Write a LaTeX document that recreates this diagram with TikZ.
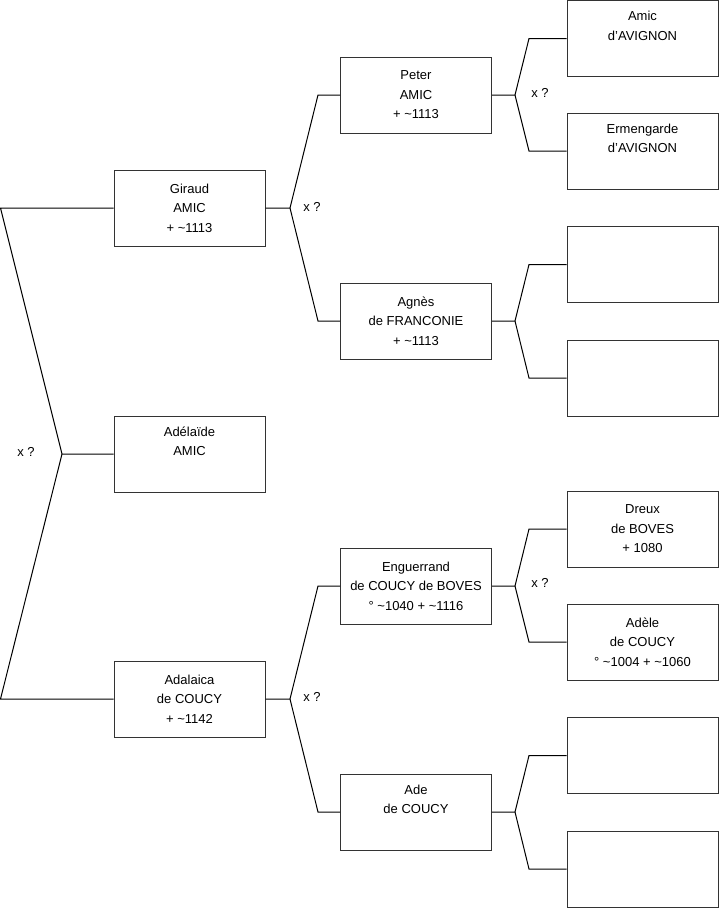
\documentclass[tikz,border=0pt]{standalone}
\usepackage{fontspec}
\setmainfont{Liberation Sans}
\begin{document}
\begin{tikzpicture}[x=1pt,y=-1pt,
  person/.style={draw=black!80, line width=1pt, minimum width=151pt, minimum height=76pt,
     inner sep=0pt, align=center, font=\fontsize{13}{19.5}\selectfont},
  link/.style={draw=black, line width=1pt},
  lbl/.style={font=\fontsize{13}{14}\selectfont, inner sep=0pt}]
\useasboundingbox (0,0) rectangle (719,908);
% level 1
\node[person] (g) at (189.5,208) {Giraud\\AMIC\\+ \textasciitilde1113};
\node[person] (ad) at (189.5,454) {Adélaïde\\AMIC\\\strut};
\node[person] (ac) at (189.5,699) {Adalaica\\de COUCY\\+ \textasciitilde1142};
% level 2
\node[person] (p) at (416,95) {Peter\\AMIC\\+ \textasciitilde1113};
\node[person] (ag) at (416,321) {Agnès\\de FRANCONIE\\+ \textasciitilde1113};
\node[person] (en) at (416,586) {Enguerrand\\de COUCY de BOVES\\° \textasciitilde1040 + \textasciitilde1116};
\node[person] (ade) at (416,812) {Ade\\de COUCY\\\strut};
% level 3
\node[person] (am) at (642.5,38.5) {Amic\\d'AVIGNON\\\strut};
\node[person] (er) at (642.5,151) {Ermengarde\\d'AVIGNON\\\strut};
\node[person] (e1) at (642.5,264.5) {};
\node[person] (e2) at (642.5,378) {};
\node[person] (dr) at (642.5,529) {Dreux\\de BOVES\\+ 1080};
\node[person] (adl) at (642.5,642) {Adèle\\de COUCY\\° \textasciitilde1004 + \textasciitilde1060};
\node[person] (e3) at (642.5,755.5) {};
\node[person] (e4) at (642.5,869) {};
% joints
\coordinate (j0) at (62,454);
\coordinate (j0t) at (0.5,208);
\coordinate (j0b) at (0.5,699);
\coordinate (j1) at (290,208);
\coordinate (j1t) at (318,95);
\coordinate (j1b) at (318,321);
\coordinate (j2) at (290,699);
\coordinate (j2t) at (318,586);
\coordinate (j2b) at (318,812);
\coordinate (k1) at (515,95);
\coordinate (k1t) at (529,38.5);
\coordinate (k1b) at (529,151);
\coordinate (k2) at (515,321);
\coordinate (k2t) at (529,264.5);
\coordinate (k2b) at (529,378);
\coordinate (k3) at (515,586);
\coordinate (k3t) at (529,529);
\coordinate (k3b) at (529,642);
\coordinate (k4) at (515,812);
\coordinate (k4t) at (529,755.5);
\coordinate (k4b) at (529,869);
% connectors
\draw[link] (g.west) -- (j0t) -- (j0) -- (ad.west);
\draw[link] (j0) -- (j0b) -- (ac.west);
\draw[link] (g.east) -- (j1) -- (j1t) -- (p.west);
\draw[link] (j1) -- (j1b) -- (ag.west);
\draw[link] (ac.east) -- (j2) -- (j2t) -- (en.west);
\draw[link] (j2) -- (j2b) -- (ade.west);
\draw[link] (p.east) -- (k1) -- (k1t) -- (am.west);
\draw[link] (k1) -- (k1b) -- (er.west);
\draw[link] (ag.east) -- (k2) -- (k2t) -- (e1.west);
\draw[link] (k2) -- (k2b) -- (e2.west);
\draw[link] (en.east) -- (k3) -- (k3t) -- (dr.west);
\draw[link] (k3) -- (k3b) -- (adl.west);
\draw[link] (ade.east) -- (k4) -- (k4t) -- (e3.west);
\draw[link] (k4) -- (k4b) -- (e4.west);
% labels
\node[lbl] (x0) at (26,452) {x ?};
\node[lbl] (x1) at (312,207) {x ?};
\node[lbl] (x2) at (312,697) {x ?};
\node[lbl] (x3) at (540,93) {x ?};
\node[lbl] (x4) at (540,583) {x ?};
\end{tikzpicture}
\end{document}
